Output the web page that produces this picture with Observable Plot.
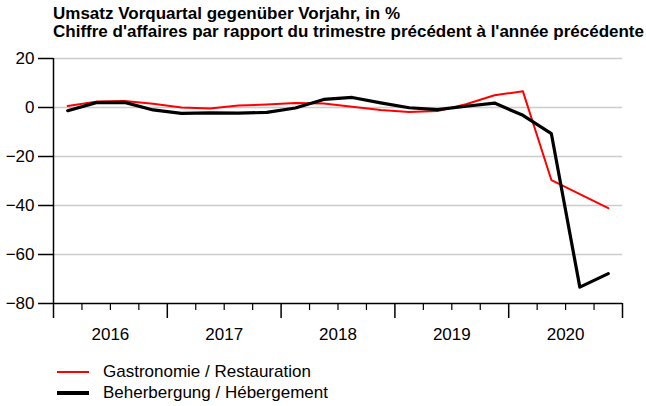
<!DOCTYPE html>
<html><head><meta charset="utf-8">
<script src="https://cdn.jsdelivr.net/npm/d3@7"></script>
<script src="https://cdn.jsdelivr.net/npm/@observablehq/plot@0.6"></script>
<style>
body{margin:0;background:#fff;font-family:"Liberation Sans",Arial,sans-serif;}
#wrap{position:relative;width:646px;height:406px;overflow:hidden}
#title{position:absolute;left:53px;top:5px;font-weight:bold;font-size:17px;line-height:17.5px;color:#000;white-space:nowrap}
#chart{position:absolute;left:0;top:48px}
#legend{position:absolute;left:57px;top:361px;font-size:17px;color:#000}
.item{display:flex;align-items:center;height:21px}
.sw{width:32px;margin-right:14px}
</style></head>
<body>
<div id="wrap">
<div id="title">Umsatz Vorquartal gegenüber Vorjahr, in %<br>Chiffre d'affaires par rapport du trimestre précédent à l'année précédente</div>
<div id="chart"></div>
<div id="legend"></div>
</div>
<script>
const years = [2016, 2017, 2018, 2019, 2020];
const seriesNames = ["Gastronomie / Restauration", "Beherbergung / Hébergement"];
const gastro = [0.6, 2.4, 2.7, 1.5, 0.0, -0.4, 0.8, 1.2, 1.8, 1.6, 0.3, -1.0, -1.8, -1.4, 1.3, 5.0, 6.6, -29.6, -35.4, -41.1];
const beherb = [-1.3, 2.0, 2.1, -1.0, -2.4, -2.2, -2.3, -2.0, -0.2, 3.3, 4.1, 1.9, -0.1, -0.9, 0.5, 1.8, -3.2, -10.7, -73.3, -67.8];
const yTicks = [20, 0, -20, -40, -60, -80];

const quarters = years.flatMap(y => [0, 1, 2, 3].map(q => y + (q + 0.5) / 4));
const quarterBounds = years.flatMap(y => [1, 2, 3].map(q => y + q / 4));
const yearBounds = [...years, years[years.length - 1] + 1];
const gData = quarters.map((x, i) => ({x, y: gastro[i]}));
const bData = quarters.map((x, i) => ({x, y: beherb[i]}));

const chart = Plot.plot({
  width: 646, height: 300,
  marginLeft: 53, marginRight: 24, marginTop: 10, marginBottom: 45,
  style: {fontFamily: '"Liberation Sans", Arial, sans-serif', background: "#fff", color: "#000"},
  x: {domain: [yearBounds[0], yearBounds[yearBounds.length - 1]]},
  y: {domain: [-80, 20]},
  marks: [
    Plot.gridY(yTicks.filter(d => d !== -80), {stroke: "#cccccc", strokeOpacity: 1, strokeWidth: 1.5}),
    Plot.ruleY([-80], {stroke: "#000", strokeWidth: 1.5}),
    Plot.ruleX([yearBounds[0]], {y1: -80, y2: 20, stroke: "#000", strokeWidth: 1.5}),
    Plot.axisY({ticks: yTicks, tickSize: 15, tickPadding: 4, fontSize: 17, strokeWidth: 1.5, label: null}),
    Plot.axisX({ticks: quarterBounds, tickSize: 7, tickFormat: () => "", strokeWidth: 1.2, label: null}),
    Plot.axisX({ticks: yearBounds, tickSize: 15, tickFormat: () => "", strokeWidth: 1.5, label: null}),
    Plot.text(years, {x: d => d + 0.5, y: -80, dy: 31, text: d => String(d), fontSize: 17, fill: "#000"}),
    Plot.line(gData, {x: "x", y: "y", stroke: "#ff0000", strokeWidth: 2, strokeLinejoin: "round"}),
    Plot.line(bData, {x: "x", y: "y", stroke: "#000000", strokeWidth: 3.2, strokeLinejoin: "round"})
  ]
});
document.getElementById("chart").appendChild(chart);

const colors = ["#ff0000", "#000000"];
const widths = [2, 4];
const legend = document.getElementById("legend");
seriesNames.forEach((name, i) => {
  const item = document.createElement("div");
  item.className = "item";
  item.innerHTML = `<div class="sw" style="border-top:${widths[i]}px solid ${colors[i]}"></div><span>${name}</span>`;
  legend.appendChild(item);
});
</script>
</body></html>
